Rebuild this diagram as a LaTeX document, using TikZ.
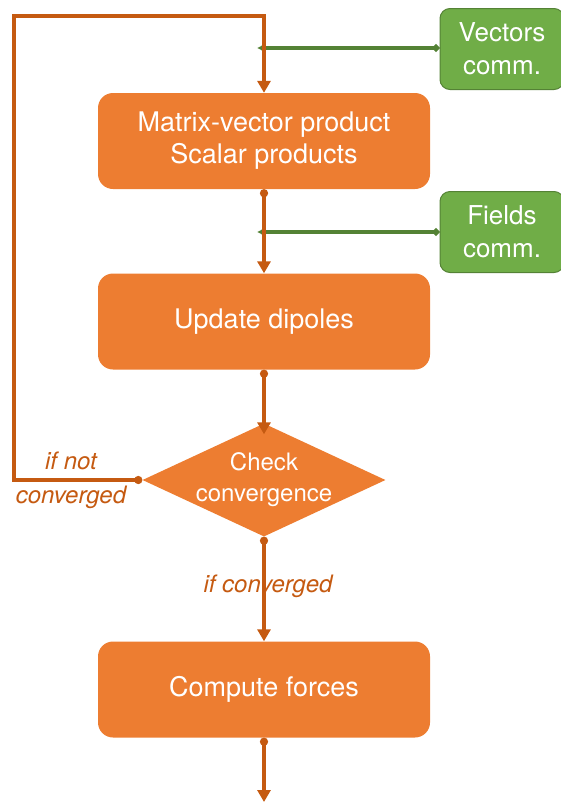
\documentclass[tikz,border=0pt]{standalone}
\usepackage{fontspec}
\setmainfont{TeX Gyre Heros}
\usetikzlibrary{shapes.geometric,arrows.meta}
\definecolor{boxorange}{HTML}{ED7D31}
\definecolor{lineorange}{HTML}{C55A11}
\definecolor{commgreen}{HTML}{70AD47}
\definecolor{commline}{HTML}{548235}
\tikzset{
  stepbox/.style={fill=boxorange, rounded corners=15pt, minimum width=332pt,
    minimum height=96pt, text=white, align=center,
    font=\fontsize{27}{32}\selectfont},
  checkbox/.style={diamond, fill=boxorange, minimum width=243pt, minimum height=113pt,
    aspect=2.15, inner sep=-6pt, text=white, align=center,
    font=\fontsize{24}{31}\selectfont},
  commbox/.style={fill=commgreen, draw=commline, line width=1pt, rounded corners=10pt,
    minimum width=124pt, minimum height=81pt, text=white, align=center,
    font=\fontsize{26}{33}\selectfont},
  flowline/.style={draw=lineorange, line width=3.5pt,
    {Circle[length=8pt]}-{Triangle[width=13pt,length=12pt]}},
  commline/.style={draw=commline, line width=3.5pt,
    {Circle[length=7pt]}-{Latex[width=10pt,length=8pt]}},
  condlabel/.style={text=lineorange, font=\fontsize{24}{34}\selectfont\itshape, align=center}
}
\begin{document}
\begin{tikzpicture}[x=1pt,y=-1pt]
    \useasboundingbox (0,0) rectangle (561,804);
    \node[stepbox] (mvp) at (264,141) {Matrix-vector product\\Scalar products};
    \node[stepbox] (upd) at (264,321.5) {Update dipoles};
    \node[checkbox] (chk) at (264,480) {Check\\convergence};
    \node[stepbox] (frc) at (264,689.5) {Compute forces};
    \node[commbox] (vec) at (502,49) {Vectors\\comm.};
    \node[commbox] (fld) at (502,232) {Fields\\comm.};
    \node[condlabel] (notconv) at (71,480) {if not\\converged};
    \node[condlabel] (conv) at (268,586) {if converged};
    \coordinate (vin) at (257,48);
    \coordinate (fin) at (257,232);
    \coordinate (loop) at (14,16);
    \coordinate (out) at (264,802);
    % communications
    \draw[commline] (vec.west |- vin) -- (vin);
    \draw[commline] (fld.west |- fin) -- (fin);
    % main flow
    \draw[flowline] (chk.west) -| (loop) -| (mvp.north);
    \draw[flowline] (mvp.south) -- (upd.north);
    \draw[flowline, shorten >=-11pt] (upd.south) -- (chk.north);
    \draw[flowline] (chk.south) -- (frc.north);
    \draw[flowline] (frc.south) -- (out);
\end{tikzpicture}
\end{document}
